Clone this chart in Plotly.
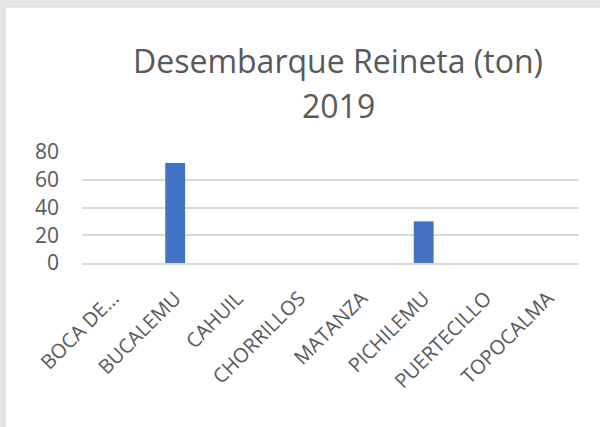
import plotly.graph_objects as go

categories = ["BOCA DE...", "BUCALEMU", "CAHUIL", "CHORRILLOS", "MATANZA",
              "PICHILEMU", "PUERTECILLO", "TOPOCALMA"]
values = [0, 72, 0, 0, 0, 30, 0, 0]
y_ticks = [0, 20, 40, 60, 80]
title_lines = ["Desembarque Reineta (ton)", "2019"]

W, H = 600, 427
L, R, T, B = 82, 21, 152, 164
pw, ph = W - L - R, H - T - B


def px_x(px):
    return (px - L) / pw


def px_y(py):
    return (H - B - py) / ph


fig = go.Figure(go.Bar(x=categories, y=values, marker_color="#4472C4",
                       marker_line_width=0, width=0.32))

annotations = []
for line, cy in zip(title_lines, [60, 105]):
    annotations.append(dict(text=line, xref="paper", yref="paper",
                            x=px_x(338), y=px_y(cy), xanchor="center",
                            yanchor="middle", showarrow=False,
                            font=dict(family="Open Sans", size=32,
                                      color="#595959")))

fig.update_layout(
    width=W, height=H,
    margin=dict(l=L, r=R, t=T, b=B),
    paper_bgcolor="#e6e6e6",
    plot_bgcolor="white",
    font=dict(family="Open Sans", color="#595959"),
    showlegend=False,
    annotations=annotations,
    shapes=[dict(type="rect", xref="paper", yref="paper",
                 x0=px_x(5), x1=px_x(W + 5),
                 y0=px_y(H + 5), y1=px_y(7),
                 fillcolor="white", line=dict(color="#d6d6d6", width=1),
                 layer="below")],
)
fig.update_yaxes(range=[0, 80], tickvals=y_ticks, showgrid=True,
                 gridcolor="#d9d9d9", gridwidth=1.5, zeroline=False,
                 showline=False, ticks="", ticklabelstandoff=22,
                 tickfont=dict(size=21, color="#595959"))
fig.update_xaxes(showgrid=False, showline=True, linecolor="#d9d9d9",
                 linewidth=1.5, ticks="", tickangle=-45,
                 ticklabelstandoff=14,
                 tickfont=dict(size=20, color="#595959"))

fig.write_html("out.html",
               config={"displayModeBar": False},
               post_script="document.body.style.margin='0px';"
                           "document.body.style.overflow='hidden';")
